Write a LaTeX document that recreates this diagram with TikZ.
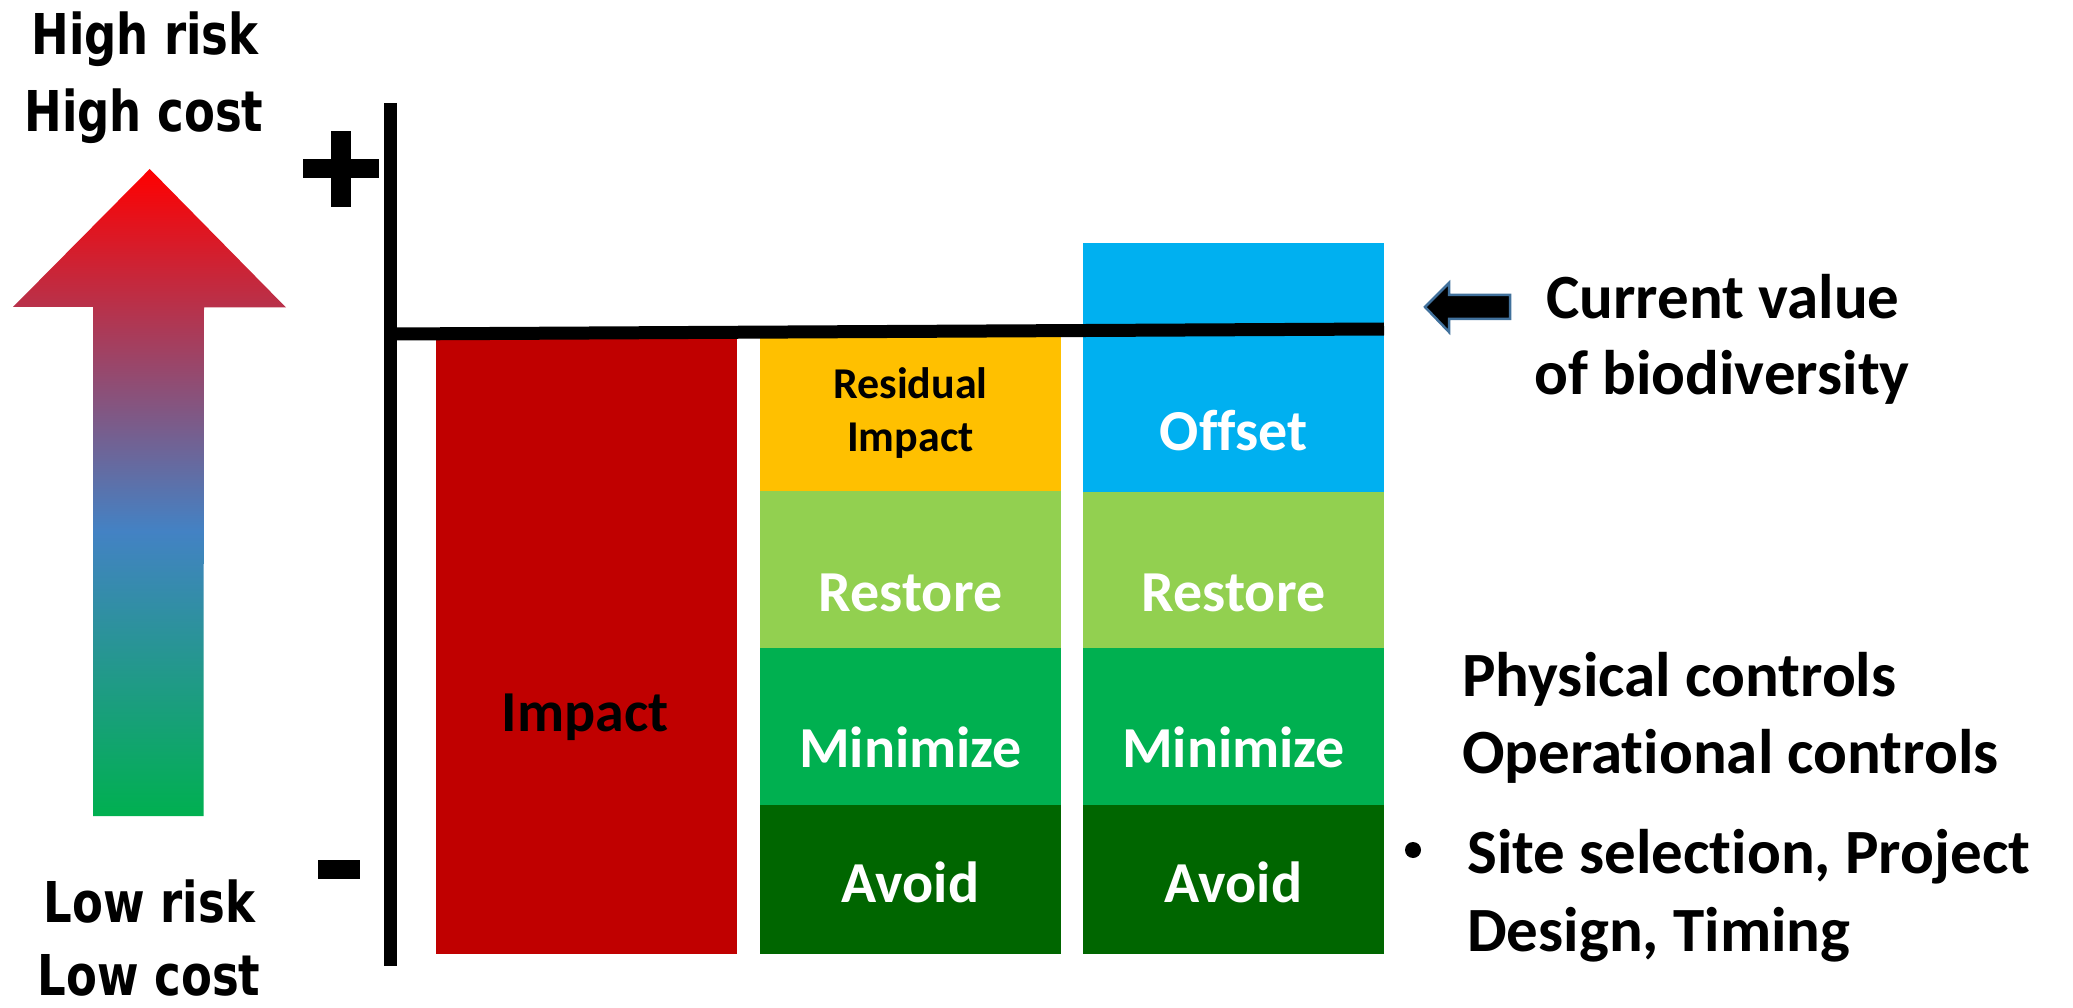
\documentclass[tikz,border=0pt]{standalone}
\usepackage{fontspec}
\setmainfont{Carlito}[Ligatures=NoCommon]
\newfontfamily\verdfont{DejaVu Sans}
\definecolor{impactred}{HTML}{C00000}
\definecolor{resyellow}{HTML}{FFC000}
\definecolor{restgreen}{HTML}{92D050}
\definecolor{mingreen}{HTML}{00B050}
\definecolor{avoidgreen}{HTML}{006600}
\definecolor{offblue}{HTML}{00B0F0}
\definecolor{arrowedge}{HTML}{41719C}
\definecolor{rkred}{RGB}{255,0,0}
\definecolor{rkblue}{RGB}{67,130,196}
\definecolor{rkgreen}{RGB}{0,176,80}
\pgfdeclareverticalshading{riskshade}{100bp}{color(0bp)=(rkgreen); color(25bp)=(rkgreen); color(47bp)=(rkblue); color(75bp)=(rkred); color(100bp)=(rkred)}
\begin{document}
\begin{tikzpicture}[x=1pt,y=-1pt,
  barlbl/.style={font=\bfseries\fontsize{58}{70}\selectfont, anchor=base, inner sep=0pt, text=white},
  reslbl/.style={font=\bfseries\fontsize{44}{53}\selectfont, anchor=base, inner sep=0pt, text=black},
  risklbl/.style={font=\verdfont\bfseries\fontsize{45}{54}\selectfont, anchor=base, inner sep=0pt, yscale=1.25},
  sidelbl/.style={font=\bfseries\fontsize{63}{76}\selectfont, inner sep=0pt},
  axisline/.style={line width=13pt}]
\useasboundingbox (0,0) rectangle (2073,1008);

% gradient arrow
\shade[shading=riskshade] (149.7,169) -- (286,307.5) -- (204,307.5) -- (203.5,816) -- (93,816) -- (93,307) -- (13,307) -- cycle;
\node[risklbl] (hr) at (145,55) {High risk};
\node[risklbl] (hc) at (144,132) {High cost};
\node[risklbl] (lr) at (149.5,922) {Low risk};
\node[risklbl, text depth=0pt] (lc) at (149,995) {Low cost};

% plus and minus
\fill (303,159) rectangle (379,178);
\fill (331,131) rectangle (351,207);
\fill (318,860) rectangle (360,879);

% bars
\fill[impactred] (436,334) rectangle (737,954);
\fill[resyellow] (760,334) rectangle (1061,491);
\fill[restgreen] (760,491) rectangle (1061,648);
\fill[mingreen] (760,648) rectangle (1061,805);
\fill[avoidgreen] (760,805) rectangle (1061,954);
\fill[offblue] (1083,243) rectangle (1384,492);
\fill[restgreen] (1083,492) rectangle (1384,648);
\fill[mingreen] (1083,648) rectangle (1384,805);
\fill[avoidgreen] (1083,805) rectangle (1384,954);

% axes
\draw[axisline] (390.5,103) -- (390.5,966);
\draw[axisline] (390.5,334) -- (1384,329);

% bar labels
\node[barlbl, text=black] (imp) at (585,731) {Impact};
\node[reslbl] (res1) at (910.5,398) {Residual};
\node[reslbl] (res2) at (910.5,451) {Impact};
\node[barlbl] (rest2) at (910.5,611) {Restore};
\node[barlbl] (min2) at (910.5,767) {Minimize};
\node[barlbl] (av2) at (910.5,902) {Avoid};
\node[barlbl] (off3) at (1233.5,450) {Offset};
\node[barlbl] (rest3) at (1233.5,611) {Restore};
\node[barlbl] (min3) at (1233.5,767) {Minimize};
\node[barlbl] (av3) at (1233.5,902) {Avoid};

% current value arrow and text
\filldraw[fill=black, draw=arrowedge, line width=2.5pt, line join=miter] (1425,307) -- (1449,283) -- (1449,295) -- (1510,295) -- (1510,319) -- (1449,319) -- (1449,332) -- cycle;
\node[sidelbl, anchor=base] (cv1) at (1723,319) {Current value};
\node[sidelbl, anchor=base] (cv2) at (1722,395) {of biodiversity};

% right block
\node[sidelbl, anchor=base west] (pc) at (1462,696) {Physical controls};
\node[sidelbl, anchor=base west] (oc) at (1462,773) {Operational controls};
\fill (1413,850) circle (8);
\node[sidelbl, anchor=base west] (ss) at (1467,873) {Site selection, Project};
\node[sidelbl, anchor=base west] (dt) at (1467,951) {Design, Timing};
\end{tikzpicture}
\end{document}
